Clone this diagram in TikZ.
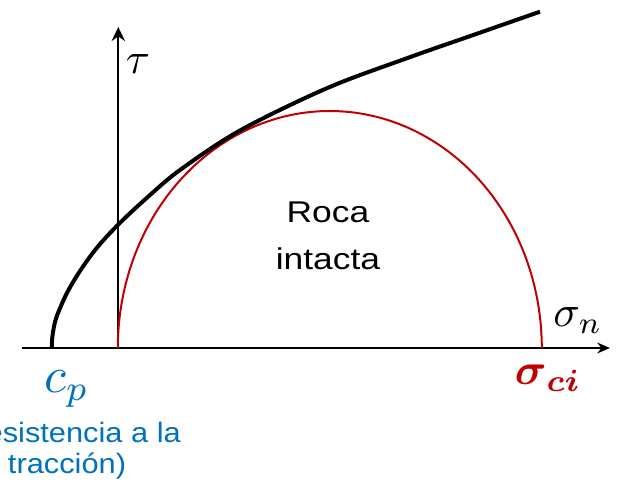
\documentclass[tikz,border=0pt]{standalone}
\usepackage{graphicx}
\usepackage{amsmath}
\usepackage{fontspec}
\setmainfont{Liberation Sans}
\usetikzlibrary{arrows.meta}
\definecolor{cpblue}{RGB}{0,112,192}
\definecolor{cired}{RGB}{192,0,0}
\begin{document}
\begin{tikzpicture}[x=0.75pt,y=-0.75pt,
  axis/.style={line width=1.7pt},
  envelope/.style={line width=3pt},
  mohr/.style={cired, line width=1.5pt},
  mathlbl/.style={inner sep=0pt, anchor=base, scale=3.3, transform shape, font=\fontsize{10}{12}\selectfont},
  rocatxt/.style={inner sep=0pt, anchor=base, xscale=1.18, transform shape, font=\fontsize{22.5}{27}\selectfont},
  bluetxt/.style={inner sep=0pt, anchor=base, xscale=1.1, transform shape, text=cpblue, font=\fontsize{21}{25}\selectfont}
]
\useasboundingbox (0,0) rectangle (618,488);
\clip (0,0) rectangle (618,488);

% axes
\coordinate (xs) at (22,348);
\coordinate (xe) at (610,348);
\coordinate (ys) at (118.3,348);
\coordinate (ye) at (118.3,27);
\draw[axis, -{Stealth[length=9.5pt,width=8pt]}] (xs) -- (xe);
\draw[axis, -{Stealth[length=10.5pt,width=10pt]}] (ys) -- (ye);

% Mohr circle (intact rock)
\draw[mohr] plot[domain=180:0, samples=150, variable=\t]
  ({329.8+212*cos(\t)},{348-237*sin(\t)});

% failure envelope
\draw[envelope] plot[smooth, tension=0.55] coordinates {
  (51.7,348) (52.6,335) (56.2,318) (66.7,293.5) (80,271) (96.7,248)
  (118.3,224.5) (146.7,198) (180,170) (240,130.5) (326.7,88.3)
  (406.7,58.3) (473.3,35) (540,11.7)};

% labels
\node[mathlbl] (tau) at (138,74) {$\tau$};
\node[mathlbl] (sn) at (578,327) {$\sigma_n$};
\node[mathlbl, text=cired] (sci) at (548,385) {$\boldsymbol{\sigma}_{\boldsymbol{ci}}$};
\node[mathlbl, text=cpblue, scale=1.15] (cp) at (66.7,393) {$c_p$};

\node[rocatxt] (roca1) at (328,223) {Roca};
\node[rocatxt] (roca2) at (328,270) {intacta};

\node[bluetxt] (res1) at (67,442) {(Resistencia a la};
\node[bluetxt] (res2) at (67,473) {tracción)};
\end{tikzpicture}
\end{document}
